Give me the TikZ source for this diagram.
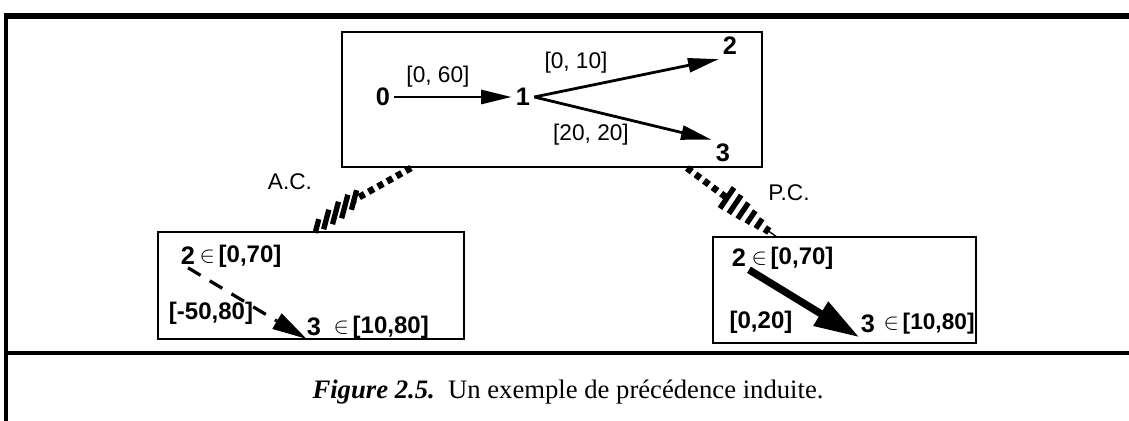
\documentclass[tikz,border=0pt]{standalone}
\usepackage{fontspec}
\setmainfont{Liberation Serif}
\setsansfont{Liberation Sans}
\usetikzlibrary{arrows.meta,calc}
\begin{document}
\begin{tikzpicture}[x=0.75pt,y=-0.75pt,
  boxline/.style={draw, line width=1.8pt},
  lbl/.style={font=\sffamily\fontsize{17}{19}\selectfont, inner sep=1pt},
  num/.style={font=\sffamily\bfseries\fontsize{19}{21}\selectfont, inner sep=3pt},
  bnum/.style={font=\sffamily\bfseries\fontsize{19}{21}\selectfont, inner sep=2pt},
  blbl/.style={font=\sffamily\bfseries\fontsize{18}{20}\selectfont, inner sep=1pt},
  arr/.style={line width=2.1pt, -{Triangle[length=23pt,width=10.5pt]}},
  dasharr/.style={line width=2.4pt, dash pattern=on 11pt off 8pt, -{Triangle[length=26pt,width=13pt]}},
  thickarr/.style={line width=5.5pt, -{Triangle[length=34pt,width=20pt]}},
  band/.style={line width=5pt, dash pattern=on 4.5pt off 3.5pt},
  tick/.style={line width=4pt},
  capt/.style={font=\fontsize{20}{23}\selectfont, inner sep=0pt}
]
\useasboundingbox (0,0) rectangle (1129,421);
% outer frame
\draw[line width=5pt] (5,16) -- (1129,16);
\draw[line width=3.5pt] (6,13) -- (6,421);
\draw[line width=2.6pt] (5,353) -- (1129,353);

% boxes
\draw[boxline] (342,32) rectangle (762,167);
\draw[boxline] (158,232) rectangle (464,339);
\draw[boxline] (713,237) rectangle (976,343);

% top network
\node[num] (n0) at (383,97) {0};
\node[num] (n1) at (523,97) {1};
\node[num] (n2) at (730,46) {2};
\node[num] (n3) at (723,153) {3};
\draw[arr] (n0.east) -- (n1.west);
\draw[arr] (n1.east) -- (n2.south west);
\draw[arr] (n1.east) -- (n3.north west);
\node[lbl] (l01) at (438,77) {[0, 60]};
\node[lbl] (l12) at (576,63) {[0, 10]};
\node[lbl] (l13) at (591,135) {[20, 20]};

% left box
\node[bnum] (a2) at (188,256) {2};
\node[lbl, anchor=west] (a2i) at (198,256) {\ensuremath{\in}\,\textbf{\fontsize{18}{20}\selectfont[0,70]}};
\node[blbl] (a50) at (211,313) {[-50,80]};
\node[bnum] (a3) at (314,327) {3};
\node[lbl, anchor=west] (a3i) at (332,327) {\ensuremath{\in}\,\textbf{\fontsize{18}{20}\selectfont[10,80]}};
\draw[dasharr] (a2.south) -- ([xshift=2pt]a3.south west);

% right box
\node[bnum] (b2) at (739,258) {2};
\node[lbl, anchor=west] (b2i) at (750,258) {\ensuremath{\in}\,\textbf{\fontsize{18}{20}\selectfont[0,70]}};
\node[blbl] (b20) at (761,322) {[0,20]};
\node[bnum] (b3) at (868,324) {3};
\node[lbl, anchor=west] (b3i) at (882,324) {\ensuremath{\in}\,\textbf{\fontsize{17}{20}\selectfont[10,80]}};
\draw[thickarr] (b2.south east) -- ([xshift=1pt,yshift=-1pt]b3.south west);

% A.C. link
\node[lbl] (ac) at (290,182) {A.C.};
\coordinate (acA) at (411,168);
\coordinate (acB) at (354,200);
\coordinate (acC) at (317,226);
\draw[band] (acA) -- (acB);
\foreach \t/\l in {0/14,0.25/20,0.5/23,0.75/24,1/20}{
  \path ($(acC)!\t!(acB)$) coordinate (c);
  \draw[tick] ($(c)+(0.13*\l,-0.49*\l)$) -- ($(c)-(0.13*\l,-0.49*\l)$);
}

% P.C. link
\node[lbl] (pc) at (789,193) {P.C.};
\coordinate (pcA) at (687,168);
\coordinate (pcB) at (727,198);
\coordinate (pcC) at (767,230);
\draw[band] (pcA) -- (pcB);
\foreach \t/\l in {0/26,0.2/23,0.4/20,0.6/16,0.8/12,1/8}{
  \path ($(pcB)!\t!(pcC)$) coordinate (c);
  \draw[tick] ($(c)+(0.27*\l,-0.4*\l)$) -- ($(c)-(0.27*\l,-0.4*\l)$);
}
\draw[line width=1pt] (pcC) -- (777,237);

% caption
\node[capt] (cap) at (568,392) {\textbf{\textit{Figure 2.5.}}\ \ Un exemple de précédence induite.};
\end{tikzpicture}
\end{document}
